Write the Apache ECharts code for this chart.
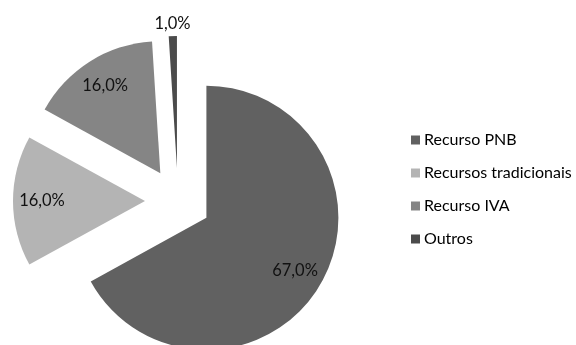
<!DOCTYPE html>
<html>
<head>
<meta charset="utf-8">
<script src="https://cdn.jsdelivr.net/npm/echarts@6/dist/echarts.min.js"></script>
<style>
  html, body { margin: 0; padding: 0; background: #fff; }
  #chart { width: 576px; height: 345px; }
</style>
</head>
<body>
<div id="chart"></div>
<script>
// Composição dos recursos próprios
const categories = ['Recurso PNB', 'Recursos tradicionais', 'Recurso IVA', 'Outros'];
const shares = [67.0, 16.0, 16.0, 1.0];
const colors = ['#616161', '#b4b4b4', '#858585', '#4b4b4b'];

const FONT = 'Lato';
const CENTER = [178, 201];
const RADIUS = 132;
const EXPLODE = 33;

const fmt = v => v.toFixed(1).replace('.', ',') + '%';

function items(styleFn, labelFn) {
  return categories.map((name, i) => ({
    name,
    value: shares[i],
    selected: true,
    itemStyle: styleFn(i),
    label: labelFn(i)
  }));
}

const common = {
  type: 'pie',
  center: CENTER,
  startAngle: 90,
  clockwise: true,
  selectedMode: 'multiple',
  selectedOffset: EXPLODE,
  avoidLabelOverlap: false,
  animation: false,
  labelLine: { show: false },
  emphasis: { disabled: true }
};

const chart = echarts.init(document.getElementById('chart'), null, { renderer: 'canvas' });
chart.setOption({
  backgroundColor: '#ffffff',
  animation: false,
  legend: {
    orient: 'vertical',
    left: 406,
    top: 127,
    itemWidth: 9,
    itemHeight: 9,
    itemGap: 17,
    icon: 'rect',
    selectedMode: false,
    textStyle: { fontFamily: FONT, fontSize: 16, color: '#000', padding: [0, 0, 0, -1] },
    data: categories
  },
  series: [
    // the sectors
    Object.assign({}, common, {
      name: 'fatias',
      radius: [0, RADIUS],
      data: items(
        i => ({ color: colors[i], borderWidth: 0 }),
        i => ({ show: false })
      )
    }),
    // value labels placed at about three quarters of the radius
    Object.assign({}, common, {
      name: 'rótulos',
      radius: [68, RADIUS],
      silent: true,
      legendHoverLink: false,
      data: items(
        i => ({ color: 'rgba(0,0,0,0)', borderWidth: 0 }),
        i => ({
          show: i < 3,
          position: 'inside',
          formatter: p => fmt(p.value),
          fontFamily: FONT, fontSize: 16.5, color: '#111'
        })
      )
    }),
    // label of the thin slice, just outside the rim
    Object.assign({}, common, {
      name: 'rótulo externo',
      radius: [135, 147],
      silent: true,
      legendHoverLink: false,
      data: items(
        i => ({ color: 'rgba(0,0,0,0)', borderWidth: 0 }),
        i => ({
          show: i === 3,
          position: 'inside',
          formatter: p => fmt(p.value),
          fontFamily: FONT, fontSize: 16.5, color: '#111'
        })
      )
    })
  ]
});
</script>
</body>
</html>
